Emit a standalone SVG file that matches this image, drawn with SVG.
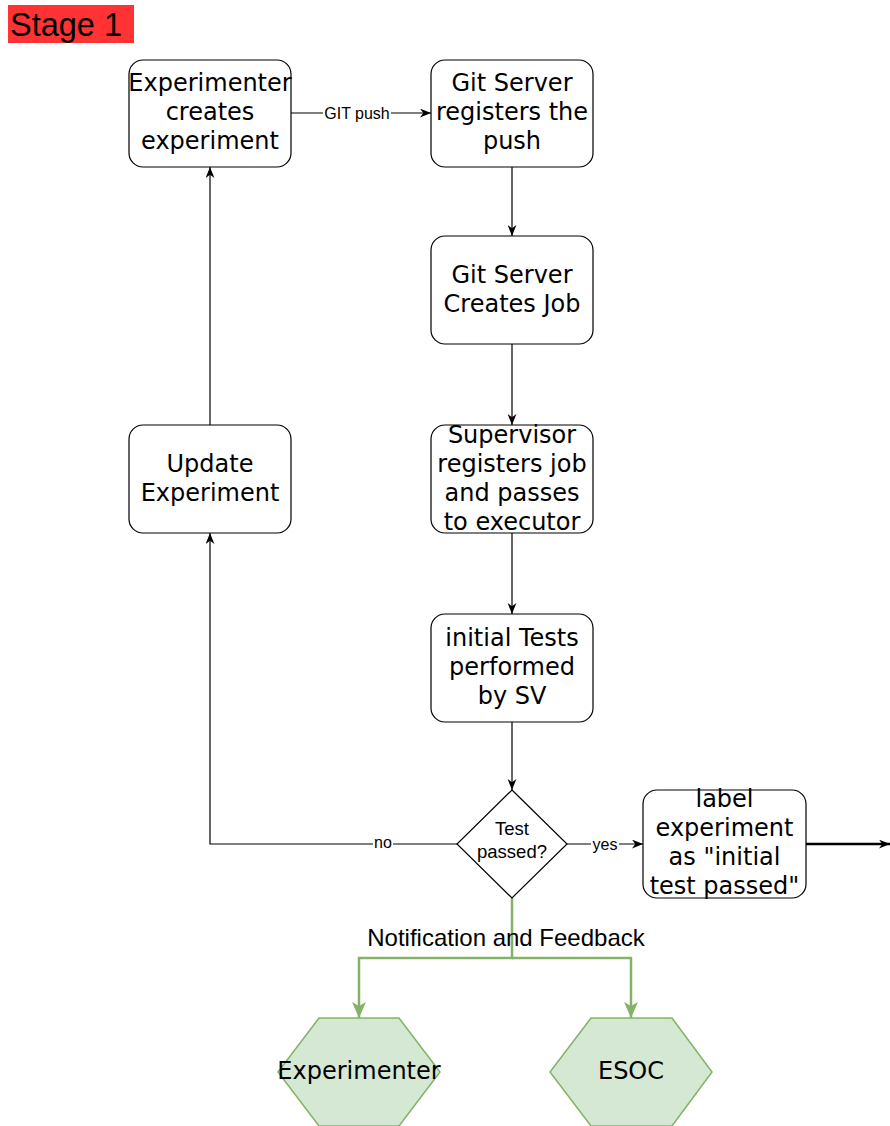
<svg xmlns="http://www.w3.org/2000/svg" width="890" height="1126" viewBox="0 0 890 1126">
<style>
.box{fill:#fff;stroke:#000;stroke-width:1.2}
.nt{font-family:"DejaVu Sans",Verdana,sans-serif;font-size:24px;fill:#000;text-anchor:middle}
.lt{font-family:"Liberation Sans",Arial,sans-serif;fill:#000;text-anchor:middle}
.ln{fill:none;stroke:#000;stroke-width:1.2}
.gl{fill:none;stroke:#82b366;stroke-width:2.5}
.hex{fill:#d5e8d4;stroke:#82b366;stroke-width:1.5}
</style>
<defs>
<marker id="ab" viewBox="0 0 10 8" refX="10" refY="4" markerWidth="11" markerHeight="9" markerUnits="userSpaceOnUse" orient="auto">
<path d="M0,0 L10,4 L0,8 L3,4 z" fill="#000"/>
</marker>
<marker id="ag" viewBox="0 0 16 14" refX="16" refY="7" markerWidth="16" markerHeight="15" markerUnits="userSpaceOnUse" orient="auto">
<path d="M0,0 L16,7 L0,14 L4,7 z" fill="#82b366"/>
</marker>
</defs>
<rect x="8" y="5" width="126" height="38" fill="#ff3333"/>
<text x="10" y="36" font-family="Liberation Sans,Arial,sans-serif" font-size="32.5" fill="#000">Stage 1</text>
<g id="connectors">
<line class="ln" x1="291" y1="113" x2="431" y2="113" marker-end="url(#ab)"/>
<rect x="323" y="104" width="68" height="18" fill="#fff"/>
<text class="lt" x="357" y="118.5" font-size="16">GIT push</text>
<line class="ln" x1="512" y1="167" x2="512" y2="236" marker-end="url(#ab)"/>
<line class="ln" x1="512" y1="344" x2="512" y2="425" marker-end="url(#ab)"/>
<line class="ln" x1="512" y1="533" x2="512" y2="614" marker-end="url(#ab)"/>
<line class="ln" x1="512" y1="722" x2="512" y2="790" marker-end="url(#ab)"/>
<polyline class="ln" points="457,844 210,844 210,533" marker-end="url(#ab)"/>
<rect x="373" y="835" width="20" height="18" fill="#fff"/>
<text class="lt" x="383" y="848" font-size="16">no</text>
<line class="ln" x1="210" y1="425" x2="210" y2="167" marker-end="url(#ab)"/>
<line class="ln" x1="567" y1="844" x2="643" y2="844" marker-end="url(#ab)"/>
<rect x="591" y="835" width="28" height="18" fill="#fff"/>
<text class="lt" x="605" y="850" font-size="16">yes</text>
<line x1="806" y1="844" x2="890" y2="844" stroke="#000" stroke-width="2.4" marker-end="url(#ab)"/>
<polyline class="gl" points="512,898 512,958 359,958 359,1018" marker-end="url(#ag)"/>
<polyline class="gl" points="512,958 631,958 631,1018" marker-end="url(#ag)"/>
<text class="lt" x="506" y="946" font-size="24">Notification and Feedback</text>
</g>
<g id="n_create">
<rect class="box" x="129" y="60" width="162" height="107" rx="14"/>
<text class="nt" x="210" y="91">Experimenter</text>
<text class="nt" x="210" y="120">creates</text>
<text class="nt" x="210" y="149">experiment</text>
</g>
<g id="n_gitpush">
<rect class="box" x="431" y="60" width="162" height="107" rx="14"/>
<text class="nt" x="512" y="91">Git Server</text>
<text class="nt" x="512" y="120">registers the</text>
<text class="nt" x="512" y="149">push</text>
</g>
<g id="n_job">
<rect class="box" x="431" y="236" width="162" height="108" rx="14"/>
<text class="nt" x="512" y="283">Git Server</text>
<text class="nt" x="512" y="312">Creates Job</text>
</g>
<g id="n_super">
<rect class="box" x="431" y="425" width="162" height="108" rx="14"/>
<text class="nt" x="512" y="443">Supervisor</text>
<text class="nt" x="512" y="472">registers job</text>
<text class="nt" x="512" y="501">and passes</text>
<text class="nt" x="512" y="530">to executor</text>
</g>
<g id="n_update">
<rect class="box" x="129" y="425" width="162" height="108" rx="14"/>
<text class="nt" x="210" y="472">Update</text>
<text class="nt" x="210" y="501">Experiment</text>
</g>
<g id="n_tests">
<rect class="box" x="431" y="614" width="162" height="108" rx="14"/>
<text class="nt" x="512" y="646">initial Tests</text>
<text class="nt" x="512" y="675">performed</text>
<text class="nt" x="512" y="704">by SV</text>
</g>
<g id="n_decision">
<polygon class="box" points="512,790 567,844 512,898 457,844"/>
<text class="lt" x="512" y="835" font-size="18.5">Test</text>
<text class="lt" x="512" y="858" font-size="18.5">passed?</text>
</g>
<g id="n_label">
<rect class="box" x="643" y="790" width="163" height="108" rx="14"/>
<text class="nt" x="724.5" y="807">label</text>
<text class="nt" x="724.5" y="836">experiment</text>
<text class="nt" x="724.5" y="865">as "initial</text>
<text class="nt" x="724.5" y="894">test passed"</text>
</g>
<g id="n_experimenter">
<polygon class="hex" points="319,1018 399,1018 440,1072 399,1126 319,1126 278,1072"/>
<text class="nt" x="359" y="1079">Experimenter</text>
</g>
<g id="n_esoc">
<polygon class="hex" points="591,1018 672,1018 712,1072 672,1126 591,1126 550,1072"/>
<text class="nt" x="631" y="1079">ESOC</text>
</g>
</svg>
